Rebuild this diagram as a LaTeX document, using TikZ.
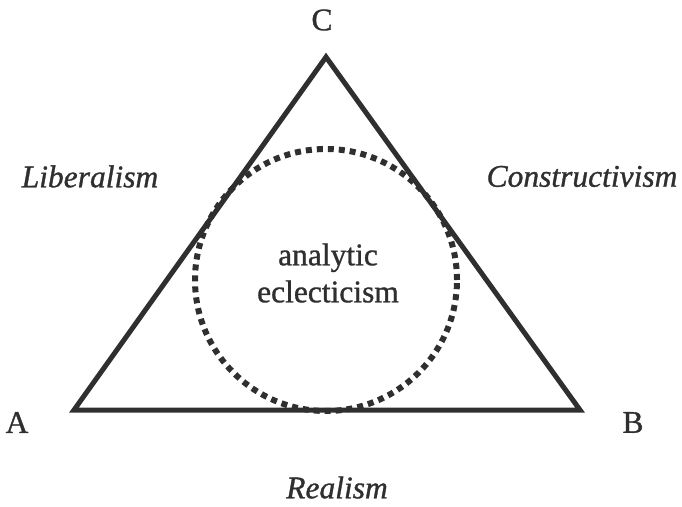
\documentclass[tikz,border=0pt]{standalone}
\usepackage{fontspec}
\setmainfont{Liberation Serif}[FakeBold=1]
\usepackage{xcolor}
\usetikzlibrary{calc,positioning}
\definecolor{inkgray}{HTML}{2F2F2F}
\tikzset{%
	vertex/.style   = {text=inkgray, font=\fontsize{31.5}{36}\selectfont, inner sep=0pt},
	school/.style   = {text=inkgray, font=\fontsize{31.5}{36}\selectfont\itshape, inner sep=0pt},
	core/.style     = {text=inkgray, font=\fontsize{31.5}{37}\selectfont, align=center, inner sep=0pt},
	side/.style     = {draw=inkgray, line width=5pt, line join=miter},
	ring/.style     = {draw=inkgray, line width=6pt, dash pattern=on 6pt off 5pt},
}
\begin{document}
\begin{tikzpicture}[x=1pt,y=1pt]
	\useasboundingbox (0,0) rectangle (682,506);
	
	\coordinate (a) at (74,96);   % corners
	\coordinate (b) at (580,96);
	\coordinate (c) at (326,449);
	\coordinate (o) at (326,226); % centre of the ring
	
	\draw[side] (a) -- (b) -- (c) -- cycle;
	\draw[ring] (o) circle (131);
	
	\node[vertex] (A) at (17,83.5)  {A};
	\node[vertex] (B) at (633,83.5) {B};
	\node[vertex] (C) at (322,486)  {C};
	
	\node[school] (lib) at (90,329.5)  {Liberalism};
	\node[school] (con) at (582,329.5) {Constructivism};
	\node[school] (rea) at (337,18.5)  {Realism};
	
	\node[core] (ae) at (328,233) {analytic\\eclecticism};
\end{tikzpicture}
\end{document}
